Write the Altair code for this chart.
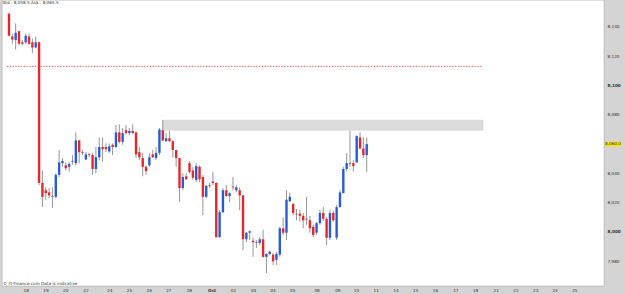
import altair as alt
import pandas as pd

# ---- data (4h candles) ----
opens = [8149, 8133.5, 8131, 8137, 8129.5, 8129.5, 8133.5, 8129.5, 8126, 8129.5,
         8033.5, 8028.5, 8027, 8024.5, 8024, 8039, 8047, 8045.5, 8044.5, 8048,
         8047, 8062.5, 8054.5, 8049.5, 8053, 8052.5, 8043, 8051, 8058, 8058,
         8055, 8059.5, 8058, 8068, 8061.5, 8069.5, 8067.5, 8069, 8068, 8054.5,
         8050.5, 8044.5, 8045.5, 8053, 8050.5, 8054, 8069.5, 8062, 8064, 8062,
         8056, 8050.5, 8030, 8038, 8047, 8042, 8035.5, 8044.5, 8037.5, 8024,
         8032, 8034.5, 8033.5, 7996.5, 8013.5, 8028.5, 8024.5, 8031, 8028.5, 8028.5,
         8025, 7995, 7999.5, 7994, 7993, 7992.5, 7995, 7983, 7985, 7984.5,
         7981, 7984.5, 8002.5, 7999.5, 8021, 8019, 8012.5, 8012.5, 8011, 8009,
         8008, 8003.5, 7999.5, 8006, 8013, 8009, 7996, 8013, 7996, 8017,
         8026.5, 8043, 8046.5, 8047, 8047.5, 8064.5, 8057, 8052.5]
highs = [8150, 8135.5, 8142.5, 8137.5, 8131, 8135.5, 8135.5, 8132, 8133.5, 8130,
         8042, 8030.5, 8030, 8030.5, 8040, 8056, 8050.5, 8047.5, 8047.5, 8052.5,
         8068, 8063, 8056, 8054.5, 8054, 8054, 8058, 8064.5, 8064.5, 8060.5,
         8060.5, 8060.5, 8073, 8073.5, 8071, 8073, 8071, 8073.5, 8068.5, 8058,
         8054, 8045.5, 8054, 8056, 8058, 8071, 8076.5, 8067.5, 8069, 8062.5,
         8056, 8050.5, 8040, 8040, 8048.5, 8044.5, 8047, 8045.5, 8039, 8032,
         8033.5, 8041, 8034, 8015, 8030, 8032, 8027, 8037.5, 8032, 8030.5,
         8025, 8000, 8001, 7996, 7994.5, 7996.5, 8001.5, 7985.5, 7987.5, 7985.5,
         7986.5, 8003.5, 8010, 8028.5, 8027, 8020, 8015.5, 8015, 8013, 8024,
         8011, 8005, 8007, 8015, 8017, 8010, 8015, 8014.5, 8018.5, 8028.5,
         8044.5, 8054, 8069, 8049, 8066, 8068, 8064.5, 8064.5]
lows = [8133.5, 8128.5, 8124.5, 8127.5, 8127.5, 8128.5, 8127.5, 8122, 8125.5, 8032,
        8017, 8022, 8023, 8016.5, 8023, 8037.5, 8044.5, 8042, 8041, 8046,
        8045.5, 8047, 8052.5, 8049, 8051, 8039, 8040, 8049, 8048, 8054.5,
        8054, 8052.5, 8057.5, 8060.5, 8059.5, 8066.5, 8066, 8067, 8050.5, 8049,
        8038, 8039, 8044.5, 8050.5, 8049, 8052.5, 8062, 8061.5, 8061.5, 8051,
        8044.5, 8020.5, 8028.5, 8035.5, 8040, 8035.5, 8034, 8034, 8011.5, 8023,
        8030, 8032, 7996, 7996, 8013, 8024, 8020.5, 8028.5, 8027, 8015,
        7987.5, 7993, 7994.5, 7983, 7989, 7991, 7982.5, 7972, 7984, 7977.5,
        7977.5, 7983, 7998, 7994.5, 8020.5, 8011.5, 8008, 8007, 8002.5, 8005,
        7999.5, 7996.5, 7998, 8005, 8007.5, 7991, 7994.5, 8007, 7994.5, 8016.5,
        8026.5, 8041.5, 8044.5, 8041.5, 8047, 8056.5, 8050.5, 8041]
closes = [8134, 8131.5, 8136, 8128.5, 8128.5, 8134, 8128.5, 8126, 8129.5, 8033.5,
          8024, 8026.5, 8025, 8024, 8039, 8047.5, 8048.5, 8043.5, 8046.5, 8048.5,
          8062.5, 8054.5, 8054, 8053, 8052.5, 8043, 8051, 8058, 8056.5, 8056.5,
          8058.5, 8058, 8068, 8061.5, 8067.5, 8067.5, 8069, 8067.5, 8053, 8051,
          8044.5, 8041.5, 8051, 8051, 8054, 8070, 8062.5, 8064, 8062, 8056,
          8050.5, 8030, 8037.5, 8036, 8041, 8037, 8045, 8036, 8024, 8031.5,
          8031.5, 8033.5, 7996.5, 8013.5, 8028.5, 8024.5, 8026.5, 8030.5, 8030.5, 8025,
          7995, 7999.5, 8000.5, 7993, 7992.5, 7995, 7983, 7985, 7986.5, 7980,
          7985, 8002.5, 7999.5, 8022, 8024, 8013, 8012, 8011, 8008, 8008.5,
          8002.5, 7998, 8006, 8013, 8009, 7996, 8013, 8008, 8017, 8027,
          8043, 8047, 8047, 8045, 8065.5, 8057, 8052.5, 8060]

day_pos = [6, 11.9, 17.8, 23.9, 31, 36.9, 42.8, 48.6, 54.8, 61.6, 68, 74, 79.8, 85.7,
           93, 99.2, 104.8, 110.7, 116.6, 122.5, 128.4, 134.5, 140.4, 146.6, 152.5,
           158.4, 164.2, 170.1]
day_lbl = ["18", "19", "20", "22", "24", "25", "26", "27", "28", "Oct", "02", "03", "04",
           "05", "08", "09", "10", "11", "14", "15", "16", "17", "18", "21", "22", "23",
           "24", "25"]
price_ticks = [7980, 8000, 8020, 8040, 8080, 8100, 8120, 8140]

zone_x = [47.2, 142.8]
zone_y = [8069.5, 8076.3]
level_y = 8113.1
level_x = [0.41, 142.8]
last_price = 8060.0

X_DOM = [0.41, 177.47]
Y_DOM = [7963.1, 8158.4]
FONT = "DejaVu Sans"

df = pd.DataFrame({
    "i": list(range(1, len(opens) + 1)),
    "open": opens, "high": highs, "low": lows, "close": closes,
})
df["dir"] = ["up" if c >= o else "down" for o, c in zip(opens, closes)]

label_map = "{" + ",".join(f"'{p:g}':'{l}'" for p, l in zip(day_pos, day_lbl)) + "}"

xscale = alt.Scale(domain=X_DOM, nice=False, zero=False)
yscale = alt.Scale(domain=Y_DOM, nice=False, zero=False)

xaxis = alt.Axis(values=day_pos, labelExpr=f"{label_map}[datum.value]", ticks=False,
                 domain=False, grid=False, title=None, labelFontSize=4.2,
                 labelFont=FONT, labelColor="#333333", labelPadding=2,
                 labelFontWeight={"condition": {"test": "datum.value == 61.6", "value": "bold"},
                                  "value": "normal"},
                 labelOverlap=False)
yaxis = alt.Axis(orient="right", values=price_ticks, format=",.0f", ticks=False,
                 domain=False, grid=False, title=None, labelFontSize=4.2,
                 labelFont=FONT, labelColor="#333333", labelPadding=3,
                 labelFontWeight={"condition": {"test": "datum.value % 100 == 0", "value": "bold"},
                                  "value": "normal"})


def X(field):
    return alt.X(field, type="quantitative", scale=xscale, axis=xaxis)


def Y(field):
    return alt.Y(field, type="quantitative", scale=yscale, axis=yaxis)


colors = alt.Scale(domain=["up", "down"], range=["#2a5bd7", "#e5262b"])

zone_df = pd.DataFrame({"x0": [zone_x[0]], "x1": [zone_x[1]], "y0": [zone_y[0]], "y1": [zone_y[1]]})
zone = alt.Chart(zone_df).mark_rect(fill="#dcdcdc", stroke="#cccccc", strokeWidth=0.5).encode(
    x=X("x0"), x2="x1", y=Y("y0"), y2="y1")

level_df = pd.DataFrame({"x0": [level_x[0]], "x1": [level_x[1]], "y": [level_y]})
level = alt.Chart(level_df).mark_rule(color="#ff4040", strokeWidth=1, strokeDash=[1.2, 1.6]).encode(
    x=X("x0"), x2="x1", y=Y("y"))

wicks = alt.Chart(df).mark_rule(color="#8a8a8a", strokeWidth=0.9).encode(
    x=X("i"), y=Y("low"), y2="high")

bodies = alt.Chart(df).mark_bar(size=2.4).encode(
    x=X("i"), y=Y("open"), y2="close",
    color=alt.Color("dir:N", scale=colors, legend=None))

tag_df = pd.DataFrame({"y0": [last_price - 1.7], "y1": [last_price + 1.7], "y": [last_price],
                       "t": [f"{last_price:,.1f}"]})
tag = alt.Chart(tag_df).mark_rect(fill="#f2e21a").encode(
    x=alt.value(603), x2=alt.value(619), y=Y("y0"), y2="y1")
tag_text = alt.Chart(tag_df).mark_text(fontSize=4.2, font=FONT, color="#333333", align="center",
                                      baseline="middle").encode(
    x=alt.value(611), y=Y("y"), text="t:N")

info_df = pd.DataFrame({"t": ["Bid : 8,058.5 Ask : 8,065.5"]})
info = alt.Chart(info_df).mark_text(fontSize=4.2, font=FONT, color="#333333", align="left",
                                    baseline="middle").encode(
    x=alt.value(1), y=alt.value(3), text="t:N")

src_df = pd.DataFrame({"t": ["© IT-Finance.com Data is indicative"]})
src = alt.Chart(src_df).mark_text(fontSize=4.2, font=FONT, color="#333333", align="left",
                                  baseline="middle").encode(
    x=alt.value(1), y=alt.value(283.5), text="t:N")

chart = alt.layer(zone, level, wicks, bodies, tag, tag_text, info, src).properties(
    width=602, height=286,
    autosize=alt.AutoSizeParams(type="none"),
    padding={"left": 2, "top": 0, "right": 21, "bottom": 8},
    background="#d4d4d4",
).configure_view(fill="white", stroke="#a8a8a8", strokeWidth=0.6)

chart.save("out.html", embed_options={"renderer": "svg", "actions": False})
